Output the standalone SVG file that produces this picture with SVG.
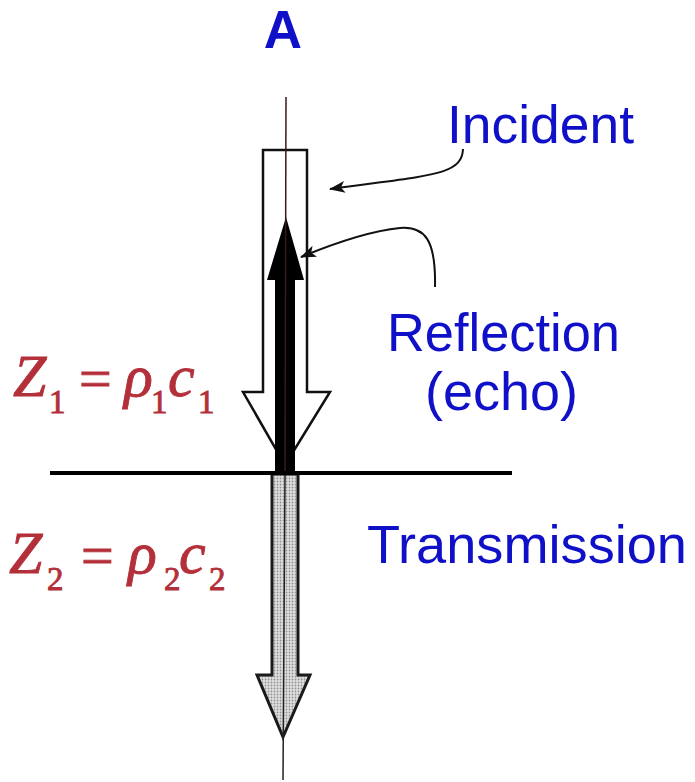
<svg xmlns="http://www.w3.org/2000/svg" width="695" height="782" viewBox="0 0 695 782">
<style>
.lbl{font-family:"Liberation Sans",Arial,sans-serif;fill:#1010c8;font-size:53px}
.eq{font-family:"Liberation Serif","Times New Roman",serif;fill:#b3303a;stroke:#b3303a;stroke-width:0.9}
.it{font-style:italic;font-size:60px}
.sub{font-size:33px}
.up{font-size:58px}
.ptr{fill:none;stroke:#111;stroke-width:2}
</style>
<defs>
<marker id="ah" viewBox="0 0 16 12" refX="15" refY="6" markerWidth="16" markerHeight="12" markerUnits="userSpaceOnUse" orient="auto">
<path d="M0,0 L16,6 L0,12 L4,6 Z" fill="#111"/>
</marker>
<pattern id="dots" width="3" height="3" patternUnits="userSpaceOnUse">
<rect width="3" height="3" fill="#e0e0e0"/>
<circle cx="1.5" cy="1.5" r="0.9" fill="#929292"/>
</pattern>
</defs>
<rect width="695" height="782" fill="#fff"/>

<g id="incident-arrow">
<polygon points="263,150 307,150 307,392 330,392 285,465 243,392 263,392" fill="#fff" stroke="#111" stroke-width="2.5" stroke-linejoin="miter"/>
</g>
<g id="reflection-arrow">
<polygon points="275,472 275,280 267,280 286,217 304,280 295,280 295,472" fill="#000"/>
</g>
<g id="transmission-arrow">
<polygon points="272,474 298,474 298,675 310,675 283,737 257,675 272,675" fill="url(#dots)" stroke="#1a1a1a" stroke-width="3"/>
</g>
<g id="axis">
<line x1="286" y1="97" x2="285" y2="472" stroke="#3a1a1a" stroke-width="1.5"/>
<line x1="285" y1="474" x2="283" y2="780" stroke="#222" stroke-width="1.5"/>
</g>
<g id="interface">
<line x1="50" y1="473" x2="512" y2="473" stroke="#000" stroke-width="4"/>
</g>

<g id="connectors">
<path class="ptr" d="M463,149 C462,176 430,175 330,189" marker-end="url(#ah)"/>
<path class="ptr" d="M435,287 C436,240 425,226 400,228 C370,231 330,245 301,257" marker-end="url(#ah)"/>
</g>

<g id="label-A"><text class="lbl" x="283" y="48" text-anchor="middle" font-weight="bold" font-size="52">A</text></g>
<g id="label-incident"><text class="lbl" x="447" y="143" textLength="187" lengthAdjust="spacingAndGlyphs">Incident</text></g>
<g id="label-reflection">
<text class="lbl" x="387" y="351" textLength="233" lengthAdjust="spacingAndGlyphs">Reflection</text>
<text class="lbl" x="425" y="410" textLength="153" lengthAdjust="spacingAndGlyphs">(echo)</text>
</g>
<g id="label-transmission"><text class="lbl" x="367" y="563" textLength="320" lengthAdjust="spacingAndGlyphs">Transmission</text></g>

<g id="eq-z1" class="eq">
<text x="13" y="396" class="it">Z</text>
<text x="49" y="413" class="sub">1</text>
<text x="79" y="398" class="up">=</text>
<text x="124" y="396" class="it">ρ</text>
<text x="151" y="413" class="sub">1</text>
<text x="168" y="396" class="it">c</text>
<text x="198" y="413" class="sub">1</text>
</g>
<g id="eq-z2" class="eq">
<text x="9" y="573" class="it">Z</text>
<text x="47" y="590" class="sub">2</text>
<text x="81" y="575" class="up">=</text>
<text x="128" y="573" class="it">ρ</text>
<text x="164" y="590" class="sub">2</text>
<text x="179" y="573" class="it">c</text>
<text x="209" y="590" class="sub">2</text>
</g>
</svg>
